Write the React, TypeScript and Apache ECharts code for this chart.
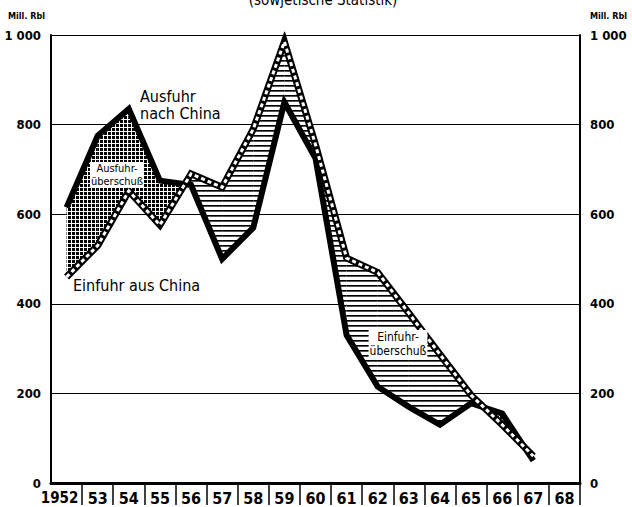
import React, { useEffect, useRef } from "react";
import * as echarts from "echarts";

const years = ["1952", "53", "54", "55", "56", "57", "58", "59", "60", "61", "62", "63", "64", "65", "66", "67", "68"];
// Ausfuhr nach China (Mill. Rbl)
const exportToChina: (number | null)[] = [615, 775, 835, 675, 665, 500, 570, 850, 725, 330, 215, 170, 130, 178, 155, 50, null];
// Einfuhr aus China (Mill. Rbl)
const importFromChina: (number | null)[] = [460, 530, 652, 576, 690, 660, 790, 985, 755, 502, 470, 379, 287, 196, 130, 60, null];
const yMin = 0;
const yMax = 1000;
const yStep = 200;

const FONT = '"DejaVu Sans Condensed", "Liberation Sans Narrow", "DejaVu Sans", sans-serif';

function makePattern(w: number, h: number, draw: (ctx: CanvasRenderingContext2D) => void) {
  const c = document.createElement("canvas");
  c.width = w;
  c.height = h;
  const ctx = c.getContext("2d")!;
  ctx.fillStyle = "#fff";
  ctx.fillRect(0, 0, w, h);
  draw(ctx);
  return { image: c.toDataURL(), repeat: "repeat", imageWidth: w, imageHeight: h };
}

export default function App() {
  const ref = useRef<HTMLDivElement>(null);
  useEffect(() => {
    if (!ref.current) return;
    const chart = echarts.init(ref.current, null, { renderer: "svg" });

    const dotPattern = makePattern(4, 4, (ctx) => {
      ctx.fillStyle = "#000";
      ctx.fillRect(0, 0, 3, 3);
    });
    const hatchPattern = makePattern(4, 5, (ctx) => {
      ctx.fillStyle = "#000";
      ctx.fillRect(0, 0, 4, 1);
      ctx.fillStyle = "#555";
      ctx.fillRect(0, 1, 4, 1);
    });

    const segments: number[][] = [];
    for (let i = 0; i < years.length - 1; i++) {
      if (exportToChina[i] != null && exportToChina[i + 1] != null && importFromChina[i] != null && importFromChina[i + 1] != null) {
        segments.push([i, 0]);
      }
    }

    const fillFor = (d: number) => (d > 0 ? dotPattern : hatchPattern);

    const yLabel = {
      margin: 10,
      color: "#000",
      fontFamily: FONT,
      fontWeight: "bold",
      fontSize: 13,
      formatter: (v: number) => (v === 1000 ? "1 000" : String(v)),
    };

    const option: any = {
      animation: false,
      grid: { left: 51, right: 52, top: 35, bottom: 24, containLabel: false },
      xAxis: {
        type: "category",
        data: years,
        boundaryGap: true,
        axisLine: { show: true, lineStyle: { color: "#000", width: 3 } },
        axisTick: {
          show: true,
          interval: (idx: number) => idx !== 0,
          length: 22,
          lineStyle: { color: "#000", width: 1.5 },
        },
        axisLabel: {
          interval: 0,
          margin: 7,
          color: "#000",
          fontFamily: FONT,
          fontWeight: "bold",
          fontSize: 16,
          formatter: (v: string, idx: number) => (idx === 0 ? `{first|${v}}` : v),
          rich: {
            first: { fontFamily: FONT, fontWeight: "bold", fontSize: 15, color: "#000", padding: [0, 14, 0, 0] },
          },
        },
        splitLine: { show: false },
      },
      yAxis: [
        {
          type: "value",
          min: yMin,
          max: yMax,
          interval: yStep,
          position: "left",
          axisLine: { show: true, lineStyle: { color: "#000", width: 2 } },
          axisTick: { show: false },
          axisLabel: yLabel,
          splitLine: { show: true, lineStyle: { color: "#000", width: 1 } },
        },
        {
          type: "value",
          min: yMin,
          max: yMax,
          interval: yStep,
          position: "right",
          axisLine: { show: true, lineStyle: { color: "#000", width: 2 } },
          axisTick: { show: false },
          axisLabel: yLabel,
          splitLine: { show: false },
        },
      ],
      series: [
        {
          type: "custom",
          z: 1,
          silent: true,
          data: segments,
          renderItem: (params: any, api: any) => {
            const i = api.value(0) as number;
            const e0 = exportToChina[i] as number;
            const e1 = exportToChina[i + 1] as number;
            const m0 = importFromChina[i] as number;
            const m1 = importFromChina[i + 1] as number;
            const pe0 = api.coord([i, e0]);
            const pe1 = api.coord([i + 1, e1]);
            const pm0 = api.coord([i, m0]);
            const pm1 = api.coord([i + 1, m1]);
            const d0 = e0 - m0;
            const d1 = e1 - m1;
            const children: any[] = [];
            if (d0 * d1 >= 0) {
              const d = d0 !== 0 ? d0 : d1;
              children.push({ type: "polygon", shape: { points: [pe0, pe1, pm1, pm0] }, style: { fill: fillFor(d), stroke: null } });
            } else {
              const t = d0 / (d0 - d1);
              const c = [pe0[0] + (pe1[0] - pe0[0]) * t, pe0[1] + (pe1[1] - pe0[1]) * t];
              children.push({ type: "polygon", shape: { points: [pe0, c, pm0] }, style: { fill: fillFor(d0), stroke: null } });
              children.push({ type: "polygon", shape: { points: [c, pe1, pm1] }, style: { fill: fillFor(d1), stroke: null } });
            }
            return { type: "group", children };
          },
        },
        {
          name: "Ausfuhr nach China",
          type: "line",
          z: 3,
          data: exportToChina,
          symbol: "none",
          silent: true,
          lineStyle: { color: "#000", width: 6, join: "miter", miterLimit: 10 },
        },
        {
          name: "Einfuhr aus China",
          type: "line",
          z: 4,
          data: importFromChina,
          symbol: "none",
          silent: true,
          lineStyle: { color: "#000", width: 7, join: "miter", miterLimit: 10 },
        },
        {
          name: "Einfuhr aus China (Mitte)",
          type: "line",
          z: 5,
          data: importFromChina,
          symbol: "none",
          silent: true,
          lineStyle: { color: "#fff", width: 3, type: [4, 3], join: "miter", miterLimit: 10 },
        },
      ],
      graphic: [
        {
          type: "text",
          x: 323,
          y: 0,
          style: { text: "(sowjetische Statistik)", fill: "#000", font: `15px ${FONT}`, textAlign: "center", textVerticalAlign: "middle" },
        },
        {
          type: "text",
          x: 8,
          y: 16,
          style: { text: "Mill. Rbl", fill: "#000", font: `bold 9px ${FONT}`, textAlign: "left", textVerticalAlign: "middle" },
        },
        {
          type: "text",
          x: 627,
          y: 16,
          style: { text: "Mill. Rbl", fill: "#000", font: `bold 9px ${FONT}`, textAlign: "right", textVerticalAlign: "middle" },
        },
        {
          type: "text",
          x: 140,
          y: 88,
          z: 10,
          style: { text: "Ausfuhr\nnach China", fill: "#000", font: `16px ${FONT}`, lineHeight: 17, textAlign: "left", textVerticalAlign: "top" },
        },
        {
          type: "text",
          x: 73,
          y: 285,
          z: 10,
          style: { text: "Einfuhr aus China", fill: "#000", font: `16px ${FONT}`, textAlign: "left", textVerticalAlign: "middle" },
        },
        {
          type: "text",
          x: 117,
          y: 175,
          z: 10,
          style: {
            text: "Ausfuhr-\nüberschuß",
            fill: "#000",
            font: `11px ${FONT}`,
            lineHeight: 13,
            textAlign: "center",
            textVerticalAlign: "middle",
            backgroundColor: "#fff",
            padding: [0, 1],
          },
        },
        {
          type: "text",
          x: 398,
          y: 344,
          z: 10,
          style: {
            text: "Einfuhr-\nüberschuß",
            fill: "#000",
            font: `12px ${FONT}`,
            lineHeight: 14,
            textAlign: "center",
            textVerticalAlign: "middle",
            backgroundColor: "#fff",
            padding: [0, 1],
          },
        },
      ],
    };
    chart.setOption(option);
    return () => chart.dispose();
  }, []);
  return <div ref={ref} style={{ position: "absolute", left: 0, top: 0, width: 632, height: 507, background: "#fff" }} />;
}
